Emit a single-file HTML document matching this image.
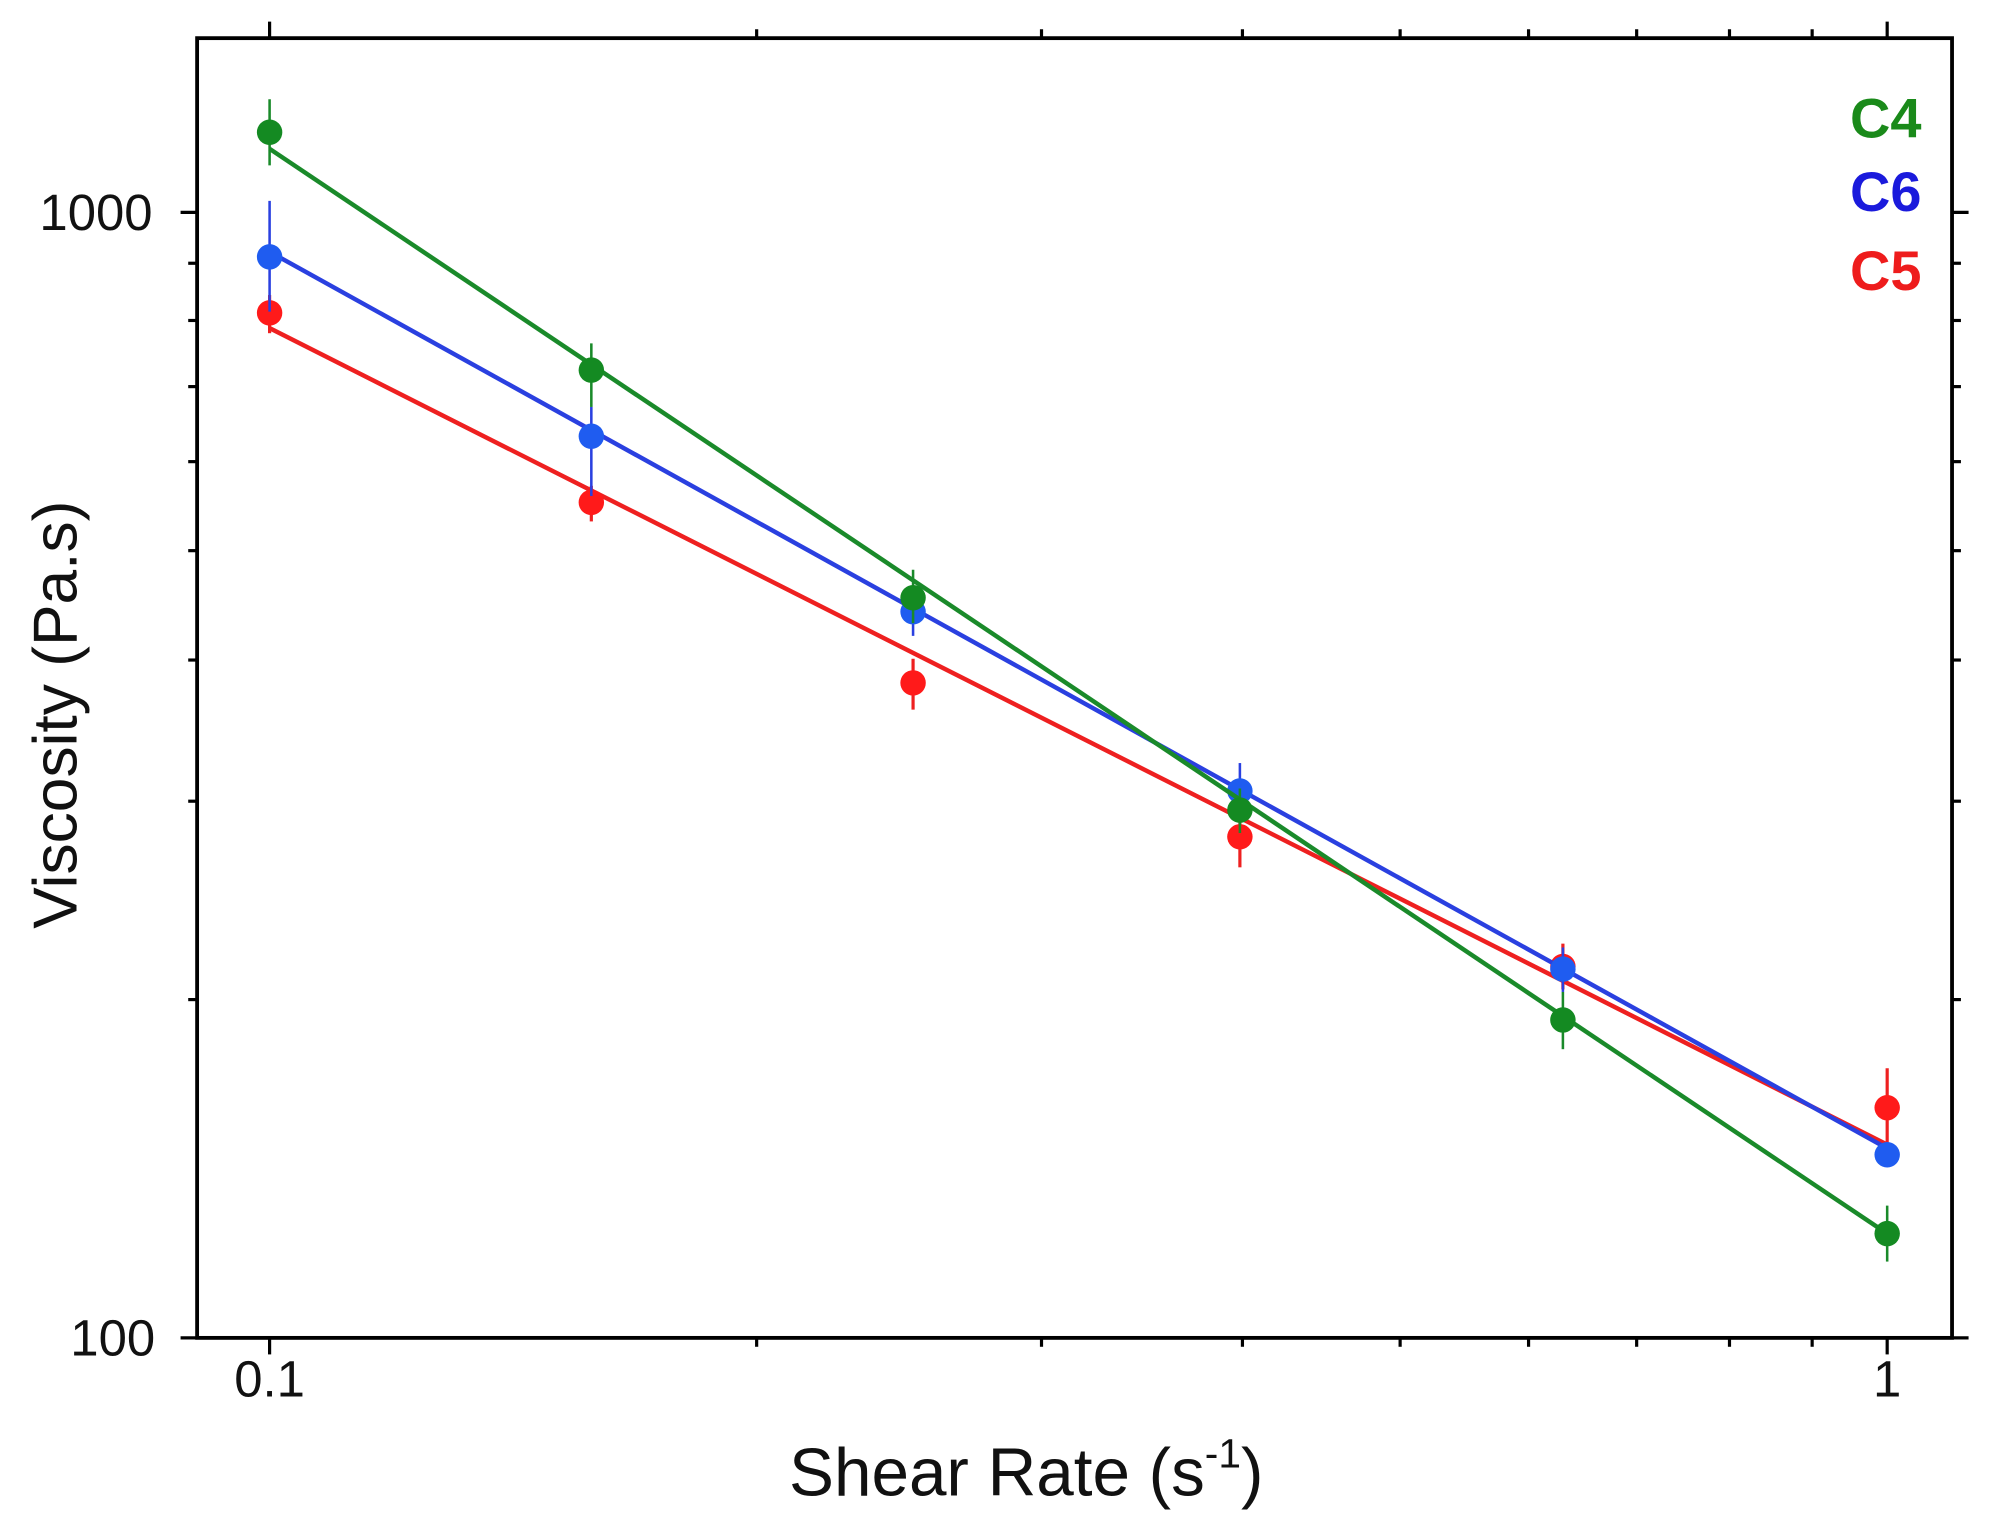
<!DOCTYPE html>
<html><head><meta charset="utf-8"><style>html,body{margin:0;padding:0;background:#fff}svg{display:block}</style></head>
<body>
<svg width="1994" height="1535" viewBox="0 0 1568 1207" preserveAspectRatio="none" xmlns="http://www.w3.org/2000/svg" font-family="Liberation Sans, Arial, sans-serif">
<rect x="155" y="30" width="1380" height="1022" fill="none" stroke="#000" stroke-width="3"/>
<g stroke="#000" stroke-width="2.5">
<line x1="212" y1="1052" x2="212" y2="1065"/><line x1="1484" y1="1052" x2="1484" y2="1065"/>
<line x1="212" y1="30" x2="212" y2="17"/><line x1="1484" y1="30" x2="1484" y2="17"/>
<line x1="595" y1="1052" x2="595" y2="1059"/><line x1="819" y1="1052" x2="819" y2="1059"/><line x1="977" y1="1052" x2="977" y2="1059"/><line x1="1101" y1="1052" x2="1101" y2="1059"/><line x1="1202" y1="1052" x2="1202" y2="1059"/><line x1="1287" y1="1052" x2="1287" y2="1059"/><line x1="1360" y1="1052" x2="1360" y2="1059"/><line x1="1425" y1="1052" x2="1425" y2="1059"/>
<line x1="595" y1="30" x2="595" y2="23"/><line x1="819" y1="30" x2="819" y2="23"/><line x1="977" y1="30" x2="977" y2="23"/><line x1="1101" y1="30" x2="1101" y2="23"/><line x1="1202" y1="30" x2="1202" y2="23"/><line x1="1287" y1="30" x2="1287" y2="23"/><line x1="1360" y1="30" x2="1360" y2="23"/><line x1="1425" y1="30" x2="1425" y2="23"/>
<line x1="155" y1="167" x2="142" y2="167"/><line x1="155" y1="1052" x2="142" y2="1052"/>
<line x1="1535" y1="167" x2="1548" y2="167"/><line x1="1535" y1="1052" x2="1548" y2="1052"/>
<line x1="155" y1="786" x2="148" y2="786"/><line x1="155" y1="630" x2="148" y2="630"/><line x1="155" y1="519" x2="148" y2="519"/><line x1="155" y1="433" x2="148" y2="433"/><line x1="155" y1="363" x2="148" y2="363"/><line x1="155" y1="304" x2="148" y2="304"/><line x1="155" y1="252" x2="148" y2="252"/><line x1="155" y1="207" x2="148" y2="207"/>
<line x1="1535" y1="786" x2="1542" y2="786"/><line x1="1535" y1="630" x2="1542" y2="630"/><line x1="1535" y1="519" x2="1542" y2="519"/><line x1="1535" y1="433" x2="1542" y2="433"/><line x1="1535" y1="363" x2="1542" y2="363"/><line x1="1535" y1="304" x2="1542" y2="304"/><line x1="1535" y1="252" x2="1542" y2="252"/><line x1="1535" y1="207" x2="1542" y2="207"/>
</g>
<g font-size="40" fill="#111">
<text x="120" y="181" text-anchor="end">1000</text>
<text x="122" y="1066" text-anchor="end">100</text>
<text x="212" y="1098" text-anchor="middle">0.1</text>
<text x="1484" y="1098" text-anchor="middle">1</text>
</g>
<text x="807" y="1176" font-size="53" fill="#111" text-anchor="middle">Shear Rate (s<tspan font-size="32" dy="-22">-1</tspan><tspan dy="22">)</tspan></text>
<text transform="translate(60,562) rotate(-90)" font-size="49" fill="#111" text-anchor="middle">Viscosity (Pa.s)</text>
<g font-size="44" font-weight="bold" text-anchor="end">
<text x="1511" y="108" fill="#1a8a1a">C4</text>
<text x="1511" y="166" fill="#1a1adc">C6</text>
<text x="1511" y="228" fill="#ee1c1c">C5</text>
</g>
<g stroke="#ee2020" stroke-width="2.5" fill="#ff1a1a">
<line x1="212" y1="258" x2="1484" y2="900" stroke-width="3.5"/>
<line x1="212" y1="232" x2="212" y2="262"/><line x1="465" y1="382" x2="465" y2="410"/><line x1="718" y1="518" x2="718" y2="558"/><line x1="975" y1="640" x2="975" y2="682"/><line x1="1229" y1="742" x2="1229" y2="778"/><line x1="1484" y1="840" x2="1484" y2="900"/>
<g stroke="none"><circle cx="212" cy="246" r="10"/><circle cx="465" cy="395" r="10"/><circle cx="718" cy="537" r="10"/><circle cx="975" cy="658" r="10"/><circle cx="1229" cy="760" r="10"/><circle cx="1484" cy="871" r="10"/></g>
</g>
<g stroke="#2a40e0" stroke-width="2" fill="#1f5cf0">
<line x1="212" y1="198" x2="1484" y2="903" stroke-width="3.5"/>
<line x1="212" y1="158" x2="212" y2="245"/><line x1="465" y1="320" x2="465" y2="390"/><line x1="718" y1="462" x2="718" y2="500"/><line x1="975" y1="600" x2="975" y2="645"/><line x1="1229" y1="745" x2="1229" y2="780"/>
<g stroke="none"><circle cx="212" cy="202" r="10"/><circle cx="465" cy="343" r="10"/><circle cx="718" cy="481" r="10"/><circle cx="975" cy="622" r="10"/><circle cx="1229" cy="762" r="10"/><circle cx="1484" cy="908" r="10"/></g>
</g>
<g stroke="#1a8a2a" stroke-width="2" fill="#148a22">
<line x1="212" y1="117" x2="1484" y2="970" stroke-width="3.5"/>
<line x1="212" y1="78" x2="212" y2="130"/><line x1="465" y1="270" x2="465" y2="320"/><line x1="718" y1="448" x2="718" y2="490"/><line x1="975" y1="620" x2="975" y2="655"/><line x1="1229" y1="780" x2="1229" y2="825"/><line x1="1484" y1="948" x2="1484" y2="992"/>
<g stroke="none"><circle cx="212" cy="104" r="10"/><circle cx="465" cy="291" r="10"/><circle cx="718" cy="470" r="10"/><circle cx="975" cy="637" r="10"/><circle cx="1229" cy="802" r="10"/><circle cx="1484" cy="970" r="10"/></g>
</g>
</svg>
</body></html>
